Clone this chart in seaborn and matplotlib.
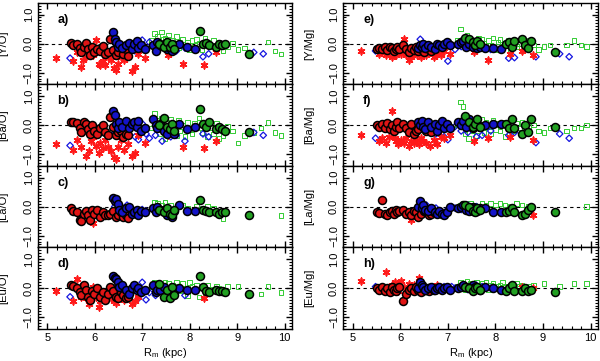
import numpy as np
import pandas as pd
import matplotlib
matplotlib.use("Agg")
import matplotlib.pyplot as plt
import seaborn as sns
from matplotlib.ticker import MultipleLocator, FixedLocator, FixedFormatter

N = np.nan

# ---------------- data ----------------
panels = ["[Y/O]", "[Ba/O]", "[La/O]", "[Eu/O]", "[Y/Mg]", "[Ba/Mg]", "[La/Mg]", "[Eu/Mg]"]
letters = ["a)", "b)", "c)", "d)", "e)", "f)", "g)", "h)"]
xticks = [5, 6, 7, 8, 9, 10]
yticks = [-1.0, 0.0, 1.0]
ytick_labels = ["\u22121.0", "0.0", "1.0"]

# red filled circles
redc_x = [5.50, 5.55, 5.62, 5.68, 5.72, 5.78, 5.82, 5.86, 5.90, 5.94, 5.98, 6.05, 6.12, 6.18, 6.22, 6.28, 6.33, 6.38, 6.44, 6.50, 6.55, 6.60, 6.65, 6.70]
redc_YO = [0.02, -0.05, 0.00, -0.15, -0.30, -0.10, 0.02, -0.20, -0.38, -0.12, -0.28, -0.20, -0.25, -0.08, -0.35, -0.30, 0.15, -0.22, -0.40, -0.30, -0.10, -0.35, -0.20, -0.42]
redc_BaO = [0.12, 0.10, 0.08, -0.10, -0.25, 0.10, 0.05, -0.15, -0.30, 0.00, -0.20, -0.30, -0.10, 0.00, -0.25, -0.35, 0.28, -0.05, -0.35, -0.25, -0.20, -0.40, -0.30, -0.35]
redc_LaO = [-0.05, -0.15, -0.20, -0.45, -0.50, -0.25, -0.15, -0.30, -0.45, -0.10, -0.25, -0.10, -0.35, -0.20, -0.30, -0.30, -0.25, -0.15, -0.35, -0.30, -0.20, -0.35, -0.30, -0.38]
redc_EuO = [0.10, 0.08, 0.00, -0.15, -0.25, 0.10, -0.05, -0.30, -0.40, -0.10, -0.20, 0.00, -0.30, -0.15, -0.40, -0.20, 0.05, -0.10, -0.30, -0.35, -0.15, -0.25, -0.35, -0.30]
redc_YMg = [-0.18, -0.15, -0.20, -0.12, -0.22, -0.10, -0.15, -0.25, -0.20, -0.12, -0.18, -0.05, -0.20, -0.28, -0.15, -0.22, -0.10, -0.25, -0.18, -0.30, -0.15, -0.20, -0.25, -0.15]
redc_BaMg = [0.00, -0.05, 0.05, -0.10, 0.08, -0.15, 0.00, -0.20, -0.05, 0.10, -0.10, 0.05, -0.10, -0.25, 0.05, -0.30, -0.20, -0.15, 0.00, -0.10, -0.20, -0.10, -0.25, -0.05]
redc_LaMg = [-0.20, -0.22, 0.22, -0.25, -0.30, -0.20, -0.15, -0.25, -0.10, -0.20, -0.15, -0.10, -0.25, -0.20, -0.30, -0.15, -0.20, -0.35, -0.25, -0.15, -0.20, -0.30, -0.25, -0.20]
redc_EuMg = [0.00, -0.05, 0.05, -0.10, 0.00, -0.15, 0.05, -0.05, -0.10, 0.00, 0.05, -0.45, -0.20, -0.05, 0.00, -0.10, 0.05, -0.05, -0.15, 0.00, -0.05, -0.10, 0.00, -0.05]

# blue filled circles
bluc_x = [6.38, 6.42, 6.45, 6.48, 6.52, 6.58, 6.65, 6.72, 6.78, 6.82, 6.88, 6.92, 6.98, 7.05, 7.22, 7.28, 7.32, 7.38, 7.45, 7.52, 7.58, 7.62, 7.68, 7.78, 7.95, 8.12]
bluc_YO = [0.40, 0.15, 0.05, -0.10, 0.00, -0.15, -0.05, 0.02, -0.20, 0.00, 0.08, -0.15, -0.05, -0.20, -0.05, -0.25, 0.05, -0.05, 0.00, -0.20, -0.15, -0.25, -0.05, 0.00, -0.10, -0.20]
bluc_BaO = [0.50, 0.35, 0.05, -0.10, 0.10, -0.05, 0.15, -0.10, 0.05, 0.10, -0.05, 0.15, -0.20, -0.10, 0.20, 0.00, -0.10, 0.05, -0.20, -0.30, -0.15, -0.10, -0.30, 0.05, -0.15, -0.05]
bluc_LaO = [0.30, 0.20, 0.25, 0.10, -0.10, -0.20, -0.05, 0.00, -0.25, -0.20, -0.10, -0.30, -0.15, -0.20, -0.05, -0.20, 0.00, -0.10, -0.10, -0.30, -0.20, -0.35, -0.15, 0.05, -0.15, -0.15]
bluc_EuO = [0.42, 0.35, 0.30, 0.20, 0.05, 0.10, -0.05, -0.20, 0.00, 0.10, -0.05, 0.00, -0.15, -0.05, 0.10, -0.15, -0.05, -0.05, 0.05, -0.20, -0.10, -0.05, -0.10, 0.00, -0.05, -0.05]
bluc_YMg = [-0.15, -0.05, -0.10, 0.00, -0.15, -0.05, -0.10, -0.20, 0.00, -0.05, -0.10, 0.00, 0.05, -0.05, 0.00, 0.05, 0.10, -0.10, 0.00, -0.10, -0.05, -0.15, -0.10, -0.15, -0.15, -0.20]
bluc_BaMg = [0.10, 0.00, 0.15, -0.05, -0.15, 0.10, -0.05, 0.05, -0.20, 0.00, 0.15, -0.10, 0.05, -0.10, 0.10, 0.00, 0.15, -0.05, 0.20, -0.10, 0.10, 0.05, -0.05, 0.00, 0.05, 0.05]
bluc_LaMg = [0.00, 0.20, -0.05, 0.05, -0.10, -0.15, -0.05, -0.20, -0.25, -0.15, -0.25, -0.30, -0.20, 0.00, -0.05, 0.00, 0.05, -0.10, -0.15, 0.00, -0.05, -0.15, -0.05, -0.05, -0.20, -0.20]
bluc_EuMg = [0.00, 0.20, 0.10, 0.05, -0.05, 0.00, 0.05, -0.05, 0.00, 0.05, -0.05, 0.00, 0.05, -0.05, 0.00, 0.05, 0.10, 0.05, 0.00, 0.10, 0.05, 0.00, -0.05, 0.05, 0.00, -0.05]

# green filled circles
grnc_x = [7.35, 7.45, 7.52, 7.58, 7.62, 7.68, 8.22, 8.28, 8.35, 8.40, 8.55, 8.62, 8.68, 8.75, 9.25]
grnc_YO = [0.00, -0.10, 0.05, -0.10, 0.00, -0.20, 0.45, 0.00, 0.02, -0.05, -0.10, 0.00, -0.05, 0.00, -0.35]
grnc_BaO = [0.00, 0.25, -0.05, -0.15, 0.05, -0.20, 0.55, 0.05, -0.05, 0.10, -0.15, -0.05, -0.15, -0.20, -0.22]
grnc_LaO = [-0.10, -0.20, -0.05, -0.25, -0.30, -0.10, 0.22, -0.10, -0.15, -0.20, -0.20, -0.25, -0.20, -0.20, -0.30]
grnc_EuO = [0.15, -0.30, -0.05, -0.35, 0.05, -0.25, 0.42, 0.05, -0.10, -0.15, -0.05, -0.10, -0.10, -0.15, -0.20]
grnc_YMg = [0.20, 0.15, 0.05, -0.05, 0.10, 0.00, 0.00, 0.05, -0.10, 0.10, 0.15, -0.05, -0.15, 0.10, -0.30]
grnc_BaMg = [0.30, 0.10, -0.05, 0.05, 0.20, -0.05, 0.05, -0.10, 0.20, -0.10, -0.30, 0.00, -0.25, 0.20, -0.05]
grnc_LaMg = [0.05, 0.00, -0.15, -0.20, -0.05, -0.10, -0.20, -0.15, -0.05, -0.20, -0.30, -0.25, -0.10, 0.00, -0.20]
grnc_EuMg = [0.05, 0.00, -0.10, 0.00, 0.05, -0.05, -0.10, 0.00, 0.10, -0.10, -0.10, 0.00, -0.10, -0.05, -0.15]

# red asterisks
star_x = [5.18, 5.55, 5.62, 5.70, 5.76, 5.82, 5.88, 5.92, 5.96, 6.02, 6.08, 6.12, 6.18, 6.22, 6.28, 6.35, 6.40, 6.44, 6.48, 6.55, 6.62, 6.70, 6.78, 6.85, 6.92, 7.05, 7.55, 7.85, 8.30, 8.55, 8.80]
star_YO = [-0.50, -0.60, -0.30, -0.80, -0.55, -0.45, -0.35, -0.25, -0.40, 0.12, -0.70, -0.75, -0.60, -0.75, -0.45, -0.55, -0.85, -0.90, -0.70, -0.45, -0.55, -0.25, -0.95, -0.80, -0.35, -0.50, -0.40, -0.70, -0.75, -0.30, N]
star_BaO = [-0.65, -0.85, -0.50, -0.75, -0.25, -1.05, -0.90, -0.55, -0.40, -0.70, -0.95, -0.60, -0.80, -0.50, -0.75, -0.90, -1.10, -1.15, -0.75, -0.50, -0.85, -0.65, -1.05, -0.95, -0.35, -0.60, -0.35, -0.75, -0.80, -0.55, N]
star_LaO = [N, N, N, N, N, N, N, N, -0.55, N, N, N, N, N, N, N, N, -0.35, N, N, N, N, N, N, N, N, N, N, N, N, N]
star_EuO = [-0.10, -0.45, 0.30, -0.30, 0.10, -0.35, -0.55, -0.20, 0.05, -0.30, -0.65, -0.45, -0.25, -0.40, -0.15, -0.35, -0.45, -0.50, -0.25, -0.30, -0.40, -0.20, -0.55, -0.45, -0.30, N, -0.30, N, -0.35, N, N]
star_YMg = [-0.25, -0.35, -0.30, -0.40, -0.30, -0.45, -0.35, -0.40, -0.30, -0.35, 0.15, -0.40, -0.55, -0.45, -0.35, -0.40, -0.30, -0.45, -0.35, -0.40, -0.30, -0.45, -0.35, -0.40, -0.25, -0.35, -0.30, -0.55, -0.35, -0.25, -0.40]
star_BaMg = [-0.35, -0.55, -0.45, -0.60, -0.40, 0.50, -0.45, -0.55, -0.65, -0.50, -0.60, -0.45, -0.70, -0.55, -0.60, -0.50, -0.65, -0.45, -0.55, -0.60, -0.70, -0.50, -0.65, -0.40, -0.45, -0.35, -0.55, -0.45, -0.40, -0.30, -0.50]
star_LaMg = [N, N, N, N, N, N, -0.25, N, N, N, N, N, N, -0.45, N, N, N, N, N, N, N, N, N, N, N, N, N, N, N, N, -0.30]
star_EuMg = [0.25, 0.00, 0.05, 0.55, -0.05, 0.10, 0.20, 0.00, -0.10, 0.25, 0.05, -0.05, 0.15, 0.00, 0.10, 0.05, 0.35, 0.10, 0.00, -0.05, 0.05, 0.00, 0.10, -0.05, 0.00, N, N, N, N, 0.05, 0.00]

# blue open diamonds
dia_x = [5.48, 6.42, 6.55, 6.68, 6.75, 6.85, 6.92, 7.00, 7.08, 7.15, 7.28, 7.42, 7.60, 7.72, 7.90, 8.28, 8.40, 8.85, 9.35, 9.55]
dia_YO = [-0.50, -0.15, -0.05, 0.00, -0.10, -0.25, -0.30, 0.12, -0.20, 0.05, -0.15, -0.10, -0.20, -0.25, -0.15, -0.45, -0.35, N, -0.30, -0.35]
dia_BaO = [-0.70, -0.30, -0.45, -0.35, -0.10, -0.40, -0.50, 0.05, -0.30, -0.45, -0.35, -0.55, -0.40, -0.35, -0.55, -0.30, -0.40, N, -0.25, -0.35]
dia_LaO = [N, 0.00, -0.10, 0.05, -0.15, -0.20, -0.25, -0.10, -0.15, N, -0.20, N, -0.25, N, N, N, N, N, N, N]
dia_EuO = [-0.30, 0.00, -0.05, -0.15, -0.10, 0.05, -0.35, 0.20, -0.40, -0.15, -0.25, -0.10, -0.20, -0.15, -0.25, N, N, N, N, N]
dia_YMg = [-0.25, 0.15, -0.10, -0.20, -0.30, -0.15, -0.10, -0.60, -0.05, -0.20, -0.10, 0.00, -0.15, -0.10, -0.20, -0.50, -0.48, -0.45, -0.35, -0.45]
dia_BaMg = [-0.45, -0.10, -0.20, -0.05, -0.30, -0.15, -0.40, -0.50, -0.10, -0.05, -0.20, -0.25, -0.40, -0.35, -0.20, -0.35, -0.25, -0.60, -0.30, -0.45]
dia_LaMg = [N, -0.05, 0.05, -0.10, -0.05, -0.15, -0.20, -0.10, 0.00, -0.05, -0.10, 0.05, 0.00, N, N, N, N, N, N, N]
dia_EuMg = [0.05, 0.00, -0.05, 0.05, -0.05, 0.00, 0.05, -0.05, 0.05, 0.00, 0.05, -0.05, 0.10, 0.05, 0.00, N, N, N, N, N]

# green open squares
sq_x = [7.20, 7.26, 7.32, 7.36, 7.40, 7.44, 7.48, 7.52, 7.56, 7.60, 7.64, 7.68, 7.72, 7.76, 7.80, 7.85, 7.90, 7.95, 8.00, 8.05,
        8.10, 8.15, 8.20, 8.26, 8.32, 8.38, 8.44, 8.50, 8.56, 8.62, 8.70, 8.80, 8.90, 9.02, 9.15, 9.35, 9.50, 9.65, 9.80, 9.92]
sq_YO = [0.10, 0.35, 0.25, -0.10, 0.40, 0.15, 0.20, -0.05, 0.30, -0.20, 0.10, 0.00, 0.25, -0.15, 0.05, 0.15, -0.10, 0.05, -0.20, 0.10,
         -0.05, 0.15, 0.00, -0.20, 0.20, 0.05, -0.10, 0.10, -0.15, 0.05, -0.25, -0.10, 0.00, -0.20, -0.15, N, N, 0.05, -0.25, -0.35]
sq_BaO = [-0.10, 0.40, 0.15, -0.30, 0.25, 0.05, -0.45, 0.10, -0.20, 0.20, -0.10, 0.05, -0.35, 0.15, -0.20, 0.00, -0.40, 0.10, -0.15, -0.30,
          0.05, -0.10, 0.25, -0.25, 0.00, -0.40, -0.10, -0.30, 0.05, -0.45, -0.35, -0.05, -0.20, -0.62, -0.35, -0.25, -0.10, 0.10, -0.25, -0.35]
sq_LaO = [N, 0.15, 0.10, N, 0.05, N, 0.15, -0.05, N, 0.05, N, -0.10, N, 0.00, N, 0.05, N, -0.05, N, N,
          N, 0.00, N, -0.05, N, 0.00, N, -0.05, N, -0.20, -0.40, N, N, N, N, N, N, N, N, -0.30]
sq_EuO = [0.05, 0.20, 0.15, -0.05, 0.10, 0.00, 0.20, -0.15, 0.15, -0.30, 0.10, -0.20, 0.20, 0.05, -0.10, 0.15, 0.00, -0.25, 0.20, 0.05,
          -0.10, 0.10, -0.30, 0.00, -0.15, 0.10, -0.05, -0.10, 0.05, 0.00, -0.05, 0.05, N, 0.05, N, N, -0.20, 0.05, N, -0.15]
sq_YMg = [0.10, 0.50, 0.05, -0.10, 0.30, 0.15, -0.05, 0.10, -0.20, 0.05, 0.20, -0.10, 0.15, 0.00, -0.15, 0.10, -0.05, 0.20, -0.20, 0.05,
          0.15, -0.10, 0.00, 0.10, -0.20, 0.05, -0.10, 0.00, -0.25, 0.10, -0.15, -0.05, -0.20, -0.10, -0.05, N, -0.05, 0.10, -0.05, -0.10]
sq_BaMg = [0.00, 0.80, 0.65, -0.30, 0.10, -0.45, 0.05, -0.20, 0.15, -0.35, 0.00, -0.10, 0.20, -0.25, 0.10, -0.05, -0.30, 0.15, -0.15, 0.05,
           -0.20, 0.10, -0.40, 0.00, 0.15, -0.20, 0.05, -0.10, 0.10, -0.30, -0.05, 0.00, -0.20, -0.25, -0.10, N, -0.20, -0.10, -0.10, 0.00]
sq_LaMg = [N, 0.05, 0.10, N, 0.00, N, 0.10, N, 0.05, N, 0.00, N, 0.10, N, 0.05, N, 0.10, N, 0.05, N,
           0.10, N, 0.05, N, 0.00, N, 0.10, N, 0.05, N, 0.00, N, N, N, N, N, N, N, N, 0.00]
sq_EuMg = [0.05, 0.20, 0.10, -0.05, 0.25, 0.00, 0.15, 0.05, -0.05, 0.20, 0.10, 0.00, 0.15, 0.05, 0.20, -0.05, 0.10, 0.15, 0.00, 0.05,
           0.10, 0.20, 0.05, -0.05, 0.10, 0.00, 0.15, 0.05, 0.10, -0.05, 0.05, 0.10, N, 0.15, N, 0.05, N, 0.15, N, 0.15]

# ---------------- assemble ----------------
keys = ["YO", "BaO", "LaO", "EuO", "YMg", "BaMg", "LaMg", "EuMg"]
groups = {
    "sq": (sq_x, [sq_YO, sq_BaO, sq_LaO, sq_EuO, sq_YMg, sq_BaMg, sq_LaMg, sq_EuMg]),
    "dia": (dia_x, [dia_YO, dia_BaO, dia_LaO, dia_EuO, dia_YMg, dia_BaMg, dia_LaMg, dia_EuMg]),
    "star": (star_x, [star_YO, star_BaO, star_LaO, star_EuO, star_YMg, star_BaMg, star_LaMg, star_EuMg]),
    "redc": (redc_x, [redc_YO, redc_BaO, redc_LaO, redc_EuO, redc_YMg, redc_BaMg, redc_LaMg, redc_EuMg]),
    "bluc": (bluc_x, [bluc_YO, bluc_BaO, bluc_LaO, bluc_EuO, bluc_YMg, bluc_BaMg, bluc_LaMg, bluc_EuMg]),
    "grnc": (grnc_x, [grnc_YO, grnc_BaO, grnc_LaO, grnc_EuO, grnc_YMg, grnc_BaMg, grnc_LaMg, grnc_EuMg]),
}
rows = []
for g, (xs, ylists) in groups.items():
    for k, ys in zip(keys, ylists):
        for x, y in zip(xs, ys):
            rows.append((g, k, x, y))
df = pd.DataFrame(rows, columns=["group", "panel", "Rm", "val"]).dropna()

styles = {
    "sq": dict(marker="s", s=11, color="#33cc33", facecolor="none", edgecolor="#33cc33", linewidth=0.7),
    "dia": dict(marker="D", s=11, color="#1515e0", facecolor="none", edgecolor="#1515e0", linewidth=0.9),
    "star": dict(marker=(6, 2, 0), s=22, color="#ff1a1a", edgecolor="#ff1a1a", linewidth=1.2),
    "redc": dict(marker="o", s=33, color="#e01515", edgecolor="black", linewidth=1.1),
    "bluc": dict(marker="o", s=33, color="#1414c8", edgecolor="black", linewidth=1.1),
    "grnc": dict(marker="o", s=33, color="#22a022", edgecolor="black", linewidth=1.1),
}

# ---------------- figure ----------------
sns.set_style("ticks")
plt.rcParams["font.family"] = ["Liberation Sans", "DejaVu Sans"]
plt.rcParams["mathtext.default"] = "regular"
plt.rcParams["axes.linewidth"] = 1.0
plt.rcParams["text.color"] = "black"
plt.rcParams["axes.labelcolor"] = "black"
plt.rcParams["xtick.color"] = "black"
plt.rcParams["ytick.color"] = "black"

fig = plt.figure(figsize=(6.0, 3.61), dpi=100)
lefts = [0.063, 0.572]
widths = [0.424, 0.425]
bot, top = 0.089, 0.992
h = (top - bot) / 4

for i, key in enumerate(keys):
    col, row = divmod(i, 4)
    ax = fig.add_axes([lefts[col], bot + (3 - row) * h, widths[col], h])
    sub = df[df["panel"] == key]
    ax.axhline(0, color="black", linestyle=(0, (3, 3)), linewidth=0.8, zorder=1)
    for g in ["sq", "dia", "star", "redc", "bluc", "grnc"]:
        d = sub[sub["group"] == g]
        if len(d):
            sns.scatterplot(data=d, x="Rm", y="val", ax=ax, legend=False, zorder=3, **styles[g])
    ax.set_xlim(4.8, 10.16)
    ax.set_ylim(-1.4, 1.4)
    ax.xaxis.set_major_locator(FixedLocator(xticks))
    ax.xaxis.set_minor_locator(MultipleLocator(0.2))
    ax.yaxis.set_major_locator(FixedLocator(yticks))
    ax.yaxis.set_major_formatter(FixedFormatter(ytick_labels))
    ax.yaxis.set_minor_locator(MultipleLocator(0.1))
    ax.tick_params(which="both", direction="in", top=True, right=True, color="black",
                   labelcolor="black")
    ax.tick_params(which="major", length=4.5, width=1.0, labelsize=8, pad=3)
    ax.tick_params(which="minor", length=2.2, width=0.8)
    ax.tick_params(axis="y", labelrotation=90)
    for lab in ax.get_yticklabels():
        lab.set_va("center")
    ax.set_ylabel(panels[i], fontsize=8, color="black")
    ax.yaxis.set_label_coords(-0.115, 0.5)
    ax.text(0.078, 0.79, letters[i], transform=ax.transAxes, fontsize=9,
            fontweight="bold", va="center", ha="left", color="black")
    if row == 3:
        ax.set_xlabel("R$_m$ (kpc)", fontsize=8, labelpad=2, color="black")
    else:
        ax.set_xlabel("")
        ax.tick_params(axis="x", labelbottom=False)
    for sp in ax.spines.values():
        sp.set_color("black")

fig.savefig("out.png", dpi=100)
